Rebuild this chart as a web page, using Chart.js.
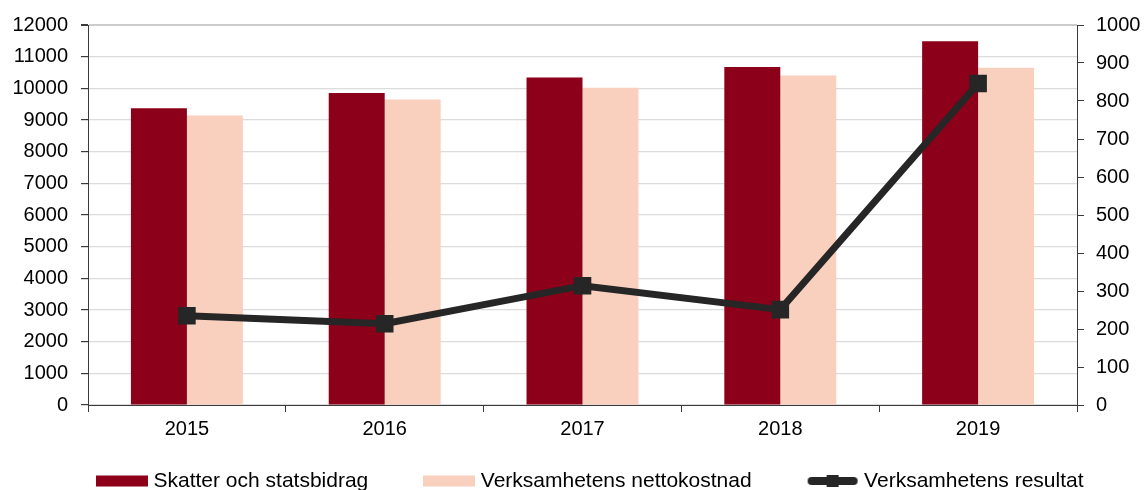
<!DOCTYPE html>
<html>
<head>
<meta charset="utf-8">
<script src="https://cdn.jsdelivr.net/npm/chart.js@4"></script>
<style>
    html, body { margin: 0; padding: 0; background: #fff; overflow: hidden; }
    #wrap { width: 1145px; height: 490px; }
</style>
</head>
<body>
<div id="wrap"><canvas id="resultChart" width="1145" height="490"></canvas></div>
<script>
// --- Data ---
const years = ['2015', '2016', '2017', '2018', '2019'];
const skatter = [9370, 9850, 10340, 10670, 11490];       // Skatter och statsbidrag (mnkr)
const nettokostnad = [9140, 9645, 10020, 10405, 10650];  // Verksamhetens nettokostnad
const resultat = [235, 214, 314, 251, 846];              // Verksamhetens resultat (right axis)

const leftTicks = { min: 0, max: 12000, step: 1000 };
const rightTicks = { min: 0, max: 1000, step: 100 };

// --- Styles ---
const DARK_RED = '#8c0019';
const PEACH = '#f9cfbe';
const LINE_GREY = '#262626';
const AXIS = '#3a3a3a';
const GRID = '#dcdcdc';

Chart.defaults.font.family = "'Liberation Sans', Arial, sans-serif";
Chart.defaults.font.size = 20;
Chart.defaults.color = '#000';

// legend icons drawn on small canvases so the line entry gets line + square
function makeIcon(draw) {
    const c = document.createElement('canvas');
    c.width = 52;
    c.height = 14;
    draw(c.getContext('2d'));
    return c;
}
const iconSkatter = makeIcon(ctx => { ctx.fillStyle = DARK_RED; ctx.fillRect(0, 1.5, 52, 11); });
const iconNetto = makeIcon(ctx => { ctx.fillStyle = PEACH; ctx.fillRect(0, 1.5, 52, 11); });
const iconResultat = makeIcon(ctx => {
    ctx.strokeStyle = LINE_GREY;
    ctx.lineWidth = 8;
    ctx.lineCap = 'round';
    ctx.beginPath();
    ctx.moveTo(5, 7);
    ctx.lineTo(47, 7);
    ctx.stroke();
    ctx.fillStyle = LINE_GREY;
    ctx.fillRect(20, 1, 12, 12);
});
const legendIcons = [iconSkatter, iconNetto, iconResultat];

// wide gap between legend items, but keep the legend box short and place it by hand
const LEGEND_HEIGHT = 49;
const LEGEND_TOP = 410.5;
const LEGEND_LEFT = 41;
const legendFitPlugin = {
    id: 'legendFit',
    beforeLayout(chart) {
        const lg = chart.legend;
        if (lg && !lg._fitPatched) {
            const origFit = lg.fit;
            lg.fit = function () {
                const mw = this.maxWidth;
                this.maxWidth = mw + 300; // keep all three items on one row
                origFit.call(this);
                this.maxWidth = mw;
                this.width = Math.min(this.width, mw);
                this.height = LEGEND_HEIGHT;
            };
            lg._fitPatched = true;
        }
    },
    afterLayout(chart) {
        const lg = chart.legend;
        if (lg) {
            lg.top = LEGEND_TOP;
            lg.left = LEGEND_LEFT;
            lg.right = chart.width + 300;
        }
    }
};

const plainNumber = value => String(value);

const ctx = document.getElementById('resultChart').getContext('2d');
new Chart(ctx, {
    type: 'bar',
    data: {
        labels: years,
        datasets: [
            {
                label: 'Skatter och statsbidrag',
                data: skatter,
                backgroundColor: DARK_RED,
                yAxisID: 'y',
                order: 1,
                barPercentage: 1,
                categoryPercentage: 0.566
            },
            {
                label: 'Verksamhetens nettokostnad',
                data: nettokostnad,
                backgroundColor: PEACH,
                yAxisID: 'y',
                order: 2,
                barPercentage: 1,
                categoryPercentage: 0.566
            },
            {
                type: 'line',
                label: 'Verksamhetens resultat',
                data: resultat,
                yAxisID: 'y1',
                order: 0,
                borderColor: LINE_GREY,
                backgroundColor: LINE_GREY,
                borderWidth: 7,
                tension: 0,
                pointStyle: 'rect',
                pointRadius: 7.5,
                pointBackgroundColor: LINE_GREY,
                pointBorderColor: LINE_GREY
            }
        ]
    },
    options: {
        responsive: false,
        animation: false,
        layout: { padding: { top: 23, left: 0, right: 0, bottom: 0 } },
        scales: {
            x: {
                offset: true,
                grid: {
                    offset: true,
                    drawOnChartArea: false,
                    tickLength: 7,
                    tickColor: AXIS
                },
                border: { color: AXIS, width: 1 },
                ticks: { padding: 5, color: '#000' },
                afterFit: scale => { scale.height = 36; }
            },
            y: {
                position: 'left',
                min: leftTicks.min,
                max: leftTicks.max,
                ticks: { stepSize: leftTicks.step, padding: 13, color: '#000', callback: plainNumber },
                grid: {
                    color: ctx => (ctx.tick && ctx.tick.value === leftTicks.max ? '#cccccc' : GRID),
                    lineWidth: ctx => (ctx.tick && ctx.tick.value === leftTicks.max ? 2 : 1.2),
                    tickLength: 7,
                    tickColor: AXIS
                },
                border: { color: AXIS, width: 1 },
                afterFit: scale => { scale.width = 88; }
            },
            y1: {
                position: 'right',
                min: rightTicks.min,
                max: rightTicks.max,
                ticks: { stepSize: rightTicks.step, padding: 12, color: '#000', callback: plainNumber },
                grid: {
                    drawOnChartArea: false,
                    tickLength: 7,
                    tickColor: AXIS
                },
                border: { color: AXIS, width: 1 },
                afterFit: scale => { scale.width = 68; }
            }
        },
        plugins: {
            legend: {
                position: 'bottom',
                align: 'start',
                labels: {
                    usePointStyle: true,
                    pointStyleWidth: 42,
                    boxHeight: 14,
                    padding: 60,
                    color: '#000',
                    font: { size: 21 },
                    sort: (a, b) => a.datasetIndex - b.datasetIndex,
                    generateLabels: chart => {
                        const items = Chart.defaults.plugins.legend.labels.generateLabels(chart);
                        items.forEach(item => { item.pointStyle = legendIcons[item.datasetIndex]; });
                        return items;
                    }
                }
            },
            tooltip: { enabled: false }
        }
    },
    plugins: [legendFitPlugin]
});
</script>
</body>
</html>
